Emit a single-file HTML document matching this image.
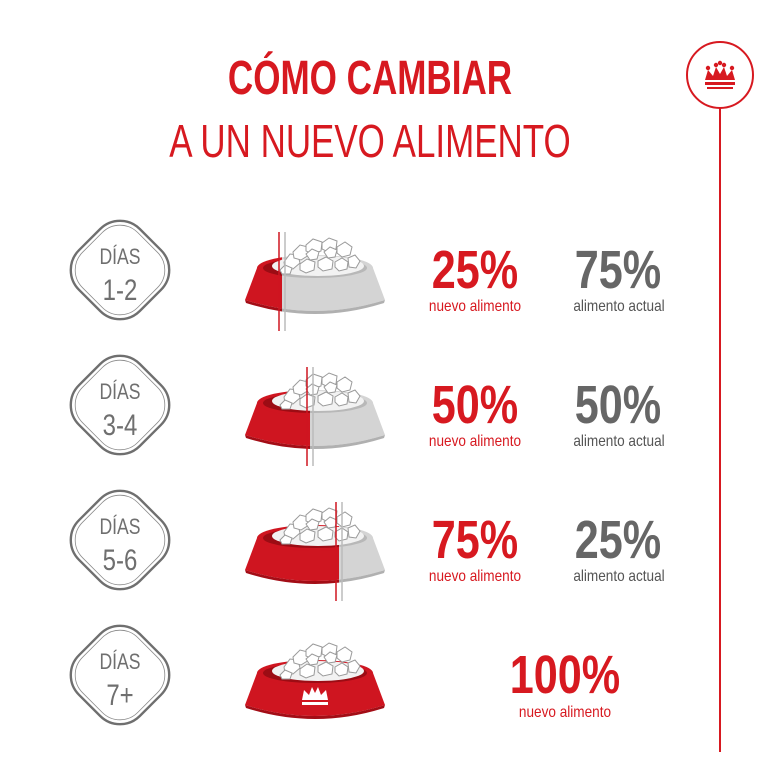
<!DOCTYPE html>
<html><head><meta charset="utf-8"><style>
html,body{margin:0;padding:0;background:#fff;}
svg{display:block;}
text{font-family:"Liberation Sans",sans-serif;}
</style></head><body>
<svg width="780" height="780" viewBox="0 0 780 780" xmlns="http://www.w3.org/2000/svg">
<defs>
<g id="bowlShape">
  <path d="M257 268 L245 300 Q315 322 385 300 L373 268 Z"/>
  <ellipse cx="315" cy="268" rx="58" ry="13"/>
</g>
<g id="food" stroke="#9a9a9a" stroke-width="1" fill="#fff">
  <ellipse cx="318" cy="266" rx="46" ry="10" fill="#f2f2f2" stroke="none"/>
  <path d="M284 262 l6-8 8 1 2 8-7 6-8-1z"/>
  <path d="M293 252 l7-7 8 2 1 8-8 5-7-2z"/>
  <path d="M306 245 l7-6 9 3-1 9-9 3-6-3z"/>
  <path d="M322 243 l7-5 8 3-1 8-8 3-6-3z"/>
  <path d="M337 247 l8-5 7 5-2 8-8 2-5-4z"/>
  <path d="M348 258 l7-3 5 6-4 7-7-1z"/>
  <path d="M300 264 l7-5 8 3-1 8-8 3-6-3z"/>
  <path d="M318 261 l8-4 7 4-1 8-9 2-5-4z"/>
  <path d="M335 262 l7-4 6 4-1 7-8 2-4-4z"/>
  <path d="M306 254 l6-5 7 3-2 7-7 1z"/>
  <path d="M324 252 l6-5 7 3-2 7-7 1z"/>
  <path d="M280 270 l5-5 7 3-2 6-8 0z"/>
</g>
<clipPath id="c1"><rect x="0" y="0" width="282" height="780"/></clipPath>
<clipPath id="c1g"><rect x="282" y="0" width="200" height="780"/></clipPath>
<clipPath id="c2"><rect x="0" y="0" width="310" height="780"/></clipPath>
<clipPath id="c2g"><rect x="310" y="0" width="200" height="780"/></clipPath>
<clipPath id="c3"><rect x="0" y="0" width="339" height="780"/></clipPath>
<clipPath id="c3g"><rect x="339" y="0" width="200" height="780"/></clipPath>
<g id="redBowl">
  <use href="#bowlShape" fill="#cf1520"/>
  <path d="M245 300 Q315 322 385 300 L384 303 Q315 325 246 303Z" fill="#a30d16"/>
  <ellipse cx="315" cy="268" rx="52" ry="10" fill="#9c0c14"/>
</g>
<g id="grayBowl">
  <use href="#bowlShape" fill="#d4d4d4"/>
  <path d="M245 300 Q315 322 385 300 L384 303 Q315 325 246 303Z" fill="#b0b0b0"/>
  <ellipse cx="315" cy="268" rx="52" ry="10" fill="#b8b8b8"/>
</g>
<g id="diamond">
  <rect x="-43" y="-43" width="86" height="86" rx="28" fill="none" stroke="#6f6f6f" stroke-width="2.4" transform="rotate(45)"/>
  <rect x="-39" y="-39" width="78" height="78" rx="25" fill="none" stroke="#8a8a8a" stroke-width="0.8" transform="rotate(45)"/>
</g>
</defs>

<text x="370" y="94" text-anchor="middle" font-size="48" font-weight="bold" fill="#d71920" transform="translate(370 0) scale(0.73 1) translate(-370 0)">CÓMO CAMBIAR</text>
<text x="370" y="157" text-anchor="middle" font-size="46" fill="#d71920" transform="translate(370 0) scale(0.76 1) translate(-370 0)">A UN NUEVO ALIMENTO</text>

<circle cx="720" cy="75" r="33" fill="none" stroke="#d71920" stroke-width="2"/>
<line x1="720" y1="108" x2="720" y2="752" stroke="#d71920" stroke-width="2"/>
<g fill="#d71920">
  <path d="M705 80 L708 70 L713 76 L716 67 L720 74 L724 67 L727 76 L732 70 L735 80 Z"/>
  <circle cx="708" cy="68" r="2.2"/><circle cx="716" cy="65" r="2.2"/><circle cx="720" cy="63" r="2.2"/><circle cx="724" cy="65" r="2.2"/><circle cx="732" cy="68" r="2.2"/>
  <rect x="705" y="82" width="30" height="3"/>
  <rect x="707" y="87" width="26" height="2"/>
</g>

<g transform="translate(120 270)"><use href="#diamond"/></g>
<g transform="translate(120 405)"><use href="#diamond"/></g>
<g transform="translate(120 540)"><use href="#diamond"/></g>
<g transform="translate(120 675)"><use href="#diamond"/></g>
<g fill="#6f6f6f" font-size="22" text-anchor="middle">
  <text x="120" y="264" transform="translate(120 0) scale(0.8 1) translate(-120 0)">DÍAS</text>
  <text x="120" y="300" font-size="30" transform="translate(120 0) scale(0.8 1) translate(-120 0)">1-2</text>
  <text x="120" y="399" transform="translate(120 0) scale(0.8 1) translate(-120 0)">DÍAS</text>
  <text x="120" y="435" font-size="30" transform="translate(120 0) scale(0.8 1) translate(-120 0)">3-4</text>
  <text x="120" y="534" transform="translate(120 0) scale(0.8 1) translate(-120 0)">DÍAS</text>
  <text x="120" y="570" font-size="30" transform="translate(120 0) scale(0.8 1) translate(-120 0)">5-6</text>
  <text x="120" y="669" transform="translate(120 0) scale(0.8 1) translate(-120 0)">DÍAS</text>
  <text x="120" y="705" font-size="30" transform="translate(120 0) scale(0.8 1) translate(-120 0)">7+</text>
</g>

<g>
  <g clip-path="url(#c1)"><use href="#redBowl"/></g>
  <g clip-path="url(#c1g)"><use href="#grayBowl"/></g>
  <use href="#food"/>
  <line x1="279" y1="232" x2="279" y2="331" stroke="#cf1520" stroke-width="1.5"/>
  <line x1="285" y1="232" x2="285" y2="331" stroke="#bbb" stroke-width="1.5"/>
</g>
<g transform="translate(0 135)">
  <g clip-path="url(#c2)"><use href="#redBowl"/></g>
  <g clip-path="url(#c2g)"><use href="#grayBowl"/></g>
  <use href="#food"/>
  <line x1="307" y1="232" x2="307" y2="331" stroke="#cf1520" stroke-width="1.5"/>
  <line x1="313" y1="232" x2="313" y2="331" stroke="#bbb" stroke-width="1.5"/>
</g>
<g transform="translate(0 270)">
  <g clip-path="url(#c3)"><use href="#redBowl"/></g>
  <g clip-path="url(#c3g)"><use href="#grayBowl"/></g>
  <use href="#food"/>
  <line x1="336" y1="232" x2="336" y2="331" stroke="#cf1520" stroke-width="1.5"/>
  <line x1="342" y1="232" x2="342" y2="331" stroke="#bbb" stroke-width="1.5"/>
</g>
<g transform="translate(0 405)">
  <use href="#redBowl"/>
  <use href="#food"/>
  <g fill="#fff">
    <path d="M302 295 L304 285 L309 290 L312 282 L315 288 L318 282 L321 290 L326 285 L328 295 Z"/>
    <rect x="302" y="297" width="26" height="3"/>
  </g>
</g>

<g font-weight="bold" font-size="54" text-anchor="middle">
  <text x="475" y="288" fill="#d71920" transform="translate(475 0) scale(0.8 1) translate(-475 0)">25%</text>
  <text x="618" y="288" fill="#666" transform="translate(618 0) scale(0.8 1) translate(-618 0)">75%</text>
  <text x="475" y="423" fill="#d71920" transform="translate(475 0) scale(0.8 1) translate(-475 0)">50%</text>
  <text x="618" y="423" fill="#666" transform="translate(618 0) scale(0.8 1) translate(-618 0)">50%</text>
  <text x="475" y="558" fill="#d71920" transform="translate(475 0) scale(0.8 1) translate(-475 0)">75%</text>
  <text x="618" y="558" fill="#666" transform="translate(618 0) scale(0.8 1) translate(-618 0)">25%</text>
  <text x="565" y="693" fill="#d71920" transform="translate(565 0) scale(0.8 1) translate(-565 0)">100%</text>
</g>
<g font-size="16" text-anchor="middle">
  <text x="475" y="311" fill="#d71920" transform="translate(475 0) scale(0.85 1) translate(-475 0)">nuevo alimento</text>
  <text x="619" y="311" fill="#555" transform="translate(619 0) scale(0.85 1) translate(-619 0)">alimento actual</text>
  <text x="475" y="446" fill="#d71920" transform="translate(475 0) scale(0.85 1) translate(-475 0)">nuevo alimento</text>
  <text x="619" y="446" fill="#555" transform="translate(619 0) scale(0.85 1) translate(-619 0)">alimento actual</text>
  <text x="475" y="581" fill="#d71920" transform="translate(475 0) scale(0.85 1) translate(-475 0)">nuevo alimento</text>
  <text x="619" y="581" fill="#555" transform="translate(619 0) scale(0.85 1) translate(-619 0)">alimento actual</text>
  <text x="565" y="717" fill="#d71920" transform="translate(565 0) scale(0.85 1) translate(-565 0)">nuevo alimento</text>
</g>
</svg>
</body></html>
